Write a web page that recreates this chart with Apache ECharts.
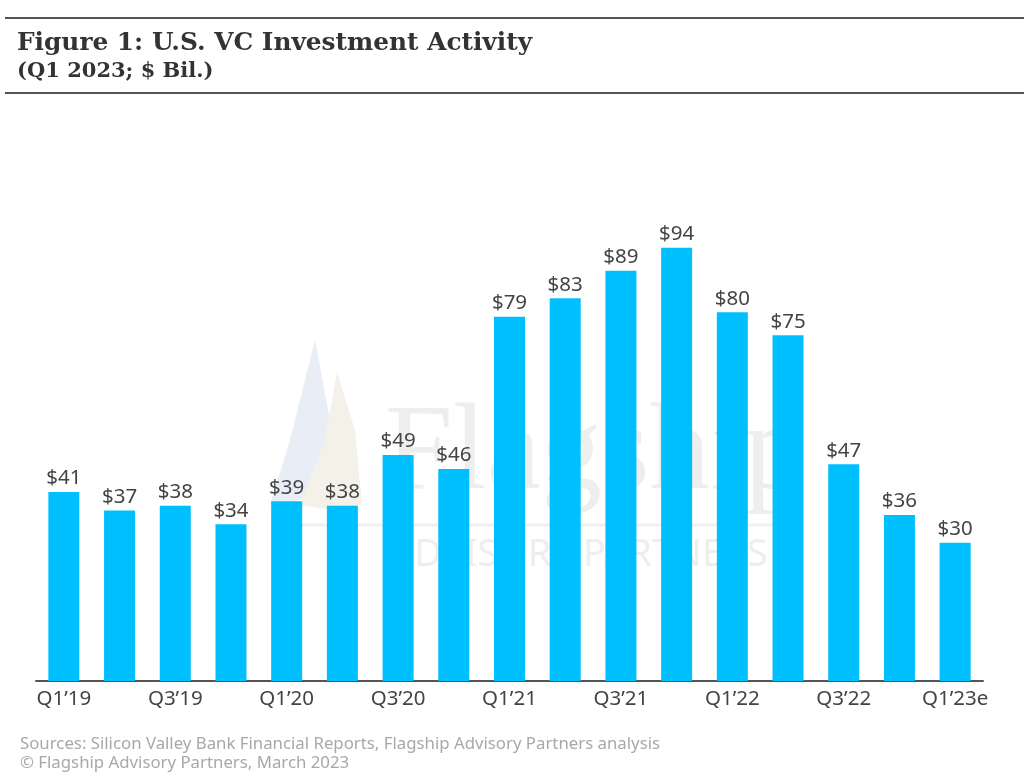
<!DOCTYPE html>
<html><head><meta charset="utf-8">
<script src="https://cdn.jsdelivr.net/npm/echarts@6/dist/echarts.min.js"></script>
<style>html,body{margin:0;padding:0;background:#fff}#c{width:1024px;height:780px}</style>
</head><body><div id="c"></div>
<script>
const categories = ["Q1’19","Q2’19","Q3’19","Q4’19","Q1’20","Q2’20","Q3’20","Q4’20","Q1’21","Q2’21","Q3’21","Q4’21","Q1’22","Q2’22","Q3’22","Q4’22","Q1’23e"];
const investment = [41,37,38,34,39,38,49,46,79,83,89,94,80,75,47,36,30];
const titleText = "Figure 1: U.S. VC Investment Activity";
const subtitleText = "(Q1 2023; $ Bil.)";
const sourceLines = ["Sources: Silicon Valley Bank Financial Reports, Flagship Advisory Partners analysis","© Flagship Advisory Partners, March 2023"];

const chart = echarts.init(document.getElementById('c'));
chart.setOption({
  backgroundColor:'#fff',
  animation:false,
  graphic:[
    {type:'line',shape:{x1:5,y1:18,x2:1024,y2:18},style:{stroke:'#555',lineWidth:2}},
    {type:'line',shape:{x1:5,y1:93,x2:1024,y2:93},style:{stroke:'#555',lineWidth:2}},
    {type:'text',left:17,top:31,style:{text:titleText,font:'bold 24.8px "DejaVu Serif"',fill:'#333'}},
    {type:'text',left:17,top:61,style:{text:subtitleText,font:'bold 21px "DejaVu Serif"',fill:'#333'}},
    {type:'polygon',z:-10,shape:{points:[[315,340],[330,420],[335,470],[300,500],[270,505],[290,440]]},style:{fill:'#e9edf6'}},
    {type:'polygon',z:-10,shape:{points:[[337,372],[355,430],[362,505],[330,510],[300,505],[325,440]]},style:{fill:'#f4f2e8'}},
    {type:'text',z:-9,left:385,top:395,style:{text:'Flagship',font:'122px "Liberation Serif"',fill:'#eeeeee'}},
    {type:'line',z:-9,shape:{x1:300,y1:525,x2:790,y2:525},style:{stroke:'#f0f0f0',lineWidth:3}},
    {type:'text',z:-9,left:390,top:536,style:{text:'ADVISORY PARTNERS',font:'38px "Noto Sans"',fill:'#eeeeee'}},
    {type:'text',left:20,top:735,style:{text:sourceLines.join('\n'),font:'16.8px "Noto Sans"',fill:'#a8a8a8',lineHeight:19}}
  ],
  grid:{left:36,right:41,top:220,bottom:99,containLabel:false},
  xAxis:{type:'category',data:categories,
    axisLine:{lineStyle:{color:'#555',width:2}},axisTick:{show:false},
    axisLabel:{interval:1,color:'#444',fontSize:20.5,fontFamily:'Noto Sans',margin:8}},
  yAxis:{type:'value',min:0,max:100,show:false,splitLine:{show:false}},
  series:[{type:'bar',data:investment,barWidth:31,
    itemStyle:{color:'#00BFFF'},
    label:{show:true,position:'top',formatter:p=>'$'+p.value,color:'#444',fontSize:20.5,fontFamily:'Noto Sans',distance:3}}]
});
</script></body></html>
